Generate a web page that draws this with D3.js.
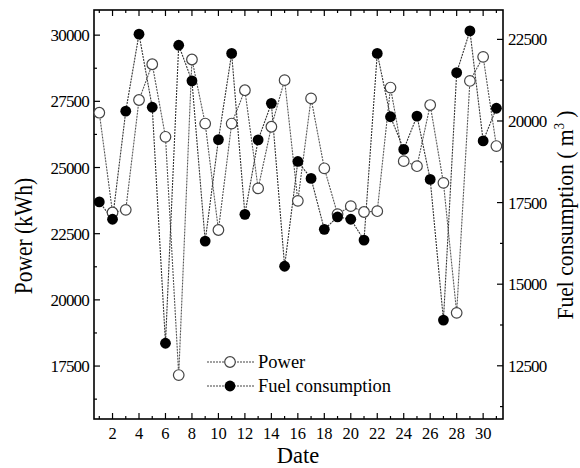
<!DOCTYPE html>
<html><head><meta charset="utf-8">
<script src="https://cdn.jsdelivr.net/npm/d3@7"></script>
<style>body{margin:0;background:#fff}svg{display:block}text{font-family:"Liberation Serif","Times New Roman",serif;fill:#000}</style>
</head><body><svg id="c" width="580" height="468"></svg>
<script>
const days = d3.range(1, 32);
const power = [27070,23300,23400,27550,28900,26160,17160,29080,26660,22640,26660,27920,24210,26540,28300,23740,27610,24970,23240,23540,23320,23350,28020,25240,25050,27360,24420,19510,28270,29180,25810];
const fuel = [17520,16990,20300,22660,20420,13190,22320,21230,16320,19430,22070,17140,19420,20540,15550,18760,18240,16680,17060,16990,16350,22070,20130,19130,20150,18210,13900,21480,22760,19390,20390];
const xTicks = [2,4,6,8,10,12,14,16,18,20,22,24,26,28,30];
const leftTicks = [17500,20000,22500,25000,27500,30000];
const rightTicks = [12500,15000,17500,20000,22500];

const L = 94, R = 503, T = 10, B = 419;
const svg = d3.select("#c");
const x = d3.scaleLinear().domain([0.6, 31.5]).range([L, R]);
const yP = d3.scaleLinear().domain([15500, 30950]).range([B, T]);
const yF = d3.scaleLinear().domain([10870, 23400]).range([B, T]);

// frame
svg.append("rect").attr("x", L).attr("y", T).attr("width", R - L).attr("height", B - T)
  .attr("fill", "none").attr("stroke", "#000").attr("stroke-width", 1.6);

// ticks (inward)
const g = svg.append("g").attr("stroke", "#000").attr("stroke-width", 1.2);
days.forEach(d => {
  const len = d % 2 === 0 ? 6 : 3;
  g.append("line").attr("x1", x(d)).attr("x2", x(d)).attr("y1", B).attr("y2", B - len);
  g.append("line").attr("x1", x(d)).attr("x2", x(d)).attr("y1", T).attr("y2", T + len);
});
d3.range(16250, 30951, 1250).forEach(v => {
  const len = (v % 2500 === 0) ? 6 : 3;
  g.append("line").attr("x1", L).attr("x2", L + len).attr("y1", yP(v)).attr("y2", yP(v));
});
d3.range(11250, 23400, 1250).forEach(v => {
  const len = (v % 2500 === 0) ? 6 : 3;
  g.append("line").attr("x1", R).attr("x2", R - len).attr("y1", yF(v)).attr("y2", yF(v));
});

// tick labels
svg.append("g").selectAll("text").data(xTicks).join("text")
  .attr("x", d => x(d)).attr("y", B + 20).attr("text-anchor", "middle")
  .attr("font-size", 16.5).text(d => d);
svg.append("g").selectAll("text").data(leftTicks).join("text")
  .attr("x", L - 5).attr("y", d => yP(d) + 6).attr("text-anchor", "end")
  .attr("font-size", 17).attr("letter-spacing", -0.8).text(d => d);
svg.append("g").selectAll("text").data(rightTicks).join("text")
  .attr("x", R + 5).attr("y", d => yF(d) + 6).attr("text-anchor", "start")
  .attr("font-size", 17).attr("letter-spacing", -0.8).text(d => d);

// axis titles
svg.append("text").attr("x", 298).attr("y", 463).attr("text-anchor", "middle").attr("font-size", 22.5).text("Date");
svg.append("text").attr("transform", "translate(32,236) rotate(-90) scale(0.86,1)").attr("text-anchor", "middle")
  .attr("font-size", 25).text("Power (kWh)");
const ft = svg.append("text").attr("transform", "translate(573,215) rotate(-90) scale(0.9,1)").attr("text-anchor", "middle")
  .attr("font-size", 24);
ft.append("tspan").text("Fuel consumption ( m");
ft.append("tspan").attr("dy", -9).attr("font-size", 14).text("3");
ft.append("tspan").attr("dy", 9).text(" )");

// lines
const lineP = d3.line().x((d, i) => x(days[i])).y(d => yP(d));
const lineF = d3.line().x((d, i) => x(days[i])).y(d => yF(d));
svg.append("path").attr("d", lineP(power)).attr("fill", "none").attr("stroke", "#555").attr("stroke-width", 1.1).attr("stroke-dasharray", "2,1");
svg.append("path").attr("d", lineF(fuel)).attr("fill", "none").attr("stroke", "#333").attr("stroke-width", 1.1).attr("stroke-dasharray", "2,1");

// markers
svg.append("g").selectAll("circle").data(power).join("circle")
  .attr("cx", (d, i) => x(days[i])).attr("cy", d => yP(d)).attr("r", 5.3)
  .attr("fill", "#fff").attr("stroke", "#444").attr("stroke-width", 1.2);
svg.append("g").selectAll("circle").data(fuel).join("circle")
  .attr("cx", (d, i) => x(days[i])).attr("cy", d => yF(d)).attr("r", 5.4)
  .attr("fill", "#000");

// legend
const lg = svg.append("g");
[["Power", false, 362], ["Fuel consumption", true, 386]].forEach(([name, filled, yy]) => {
  lg.append("line").attr("x1", 207).attr("x2", 254).attr("y1", yy).attr("y2", yy)
    .attr("stroke", "#444").attr("stroke-width", 1.1).attr("stroke-dasharray", "2,1");
  lg.append("circle").attr("cx", 230).attr("cy", yy).attr("r", filled ? 5.4 : 5.3)
    .attr("fill", filled ? "#000" : "#fff").attr("stroke", filled ? "none" : "#444").attr("stroke-width", 1.2);
  lg.append("text").attr("x", 258).attr("y", yy + 6).attr("font-size", 18.5).text(name);
});
</script></body></html>
